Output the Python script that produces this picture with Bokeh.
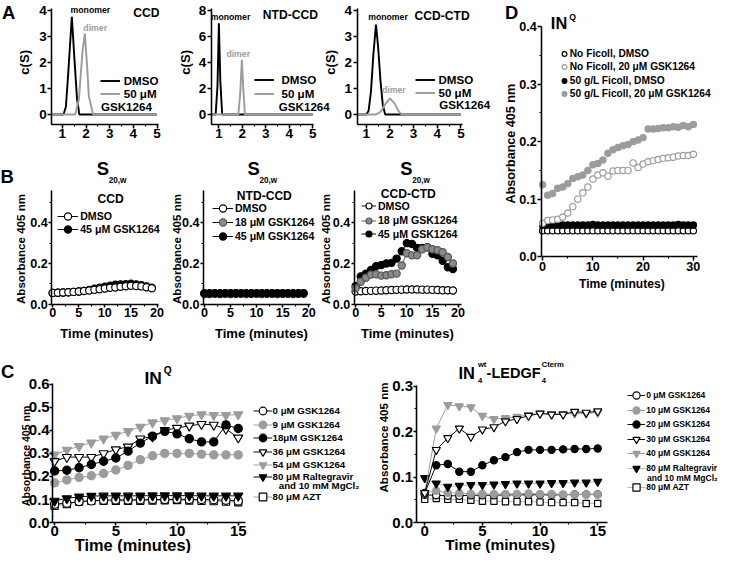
from math import pi
from bokeh.plotting import figure
from bokeh.models import (Range1d, FixedTicker, NumeralTickFormatter, Label, Legend,
                          LegendItem, LinearAxis, Grid)
from bokeh.embed import file_html
from bokeh.resources import INLINE

# ===================== DATA =====================
# Panel A : c(S) distributions (sedimentation coefficient S, c(S))
a_ccd_dmso_s = [0.55, 1.05, 1.15, 1.25, 1.40, 1.52, 1.62, 1.72, 5.0]
a_ccd_dmso_c = [0.0, 0.0, 0.3, 1.6, 3.75, 2.0, 0.6, 0.0, 0.0]
a_ccd_gsk_s = [0.55, 1.55, 1.70, 1.85, 1.95, 2.05, 2.12, 2.30, 5.0]
a_ccd_gsk_c = [0.0, 0.0, 0.6, 2.4, 3.1, 1.8, 0.7, 0.0, 0.0]
a_ntd_dmso_s = [0.67, 0.86, 0.94, 1.00, 1.06, 1.14, 5.0]
a_ntd_dmso_c = [0.0, 0.0, 2.2, 7.0, 2.6, 0.0, 0.0]
a_ntd_gsk_s = [0.67, 1.83, 1.91, 1.98, 2.04, 2.11, 5.0]
a_ntd_gsk_c = [0.0, 0.0, 1.6, 4.2, 2.0, 0.0, 0.0]
a_ctd_dmso_s = [0.61, 1.0, 1.1, 1.2, 1.3, 1.41, 1.5, 1.6, 1.7, 1.8, 5.0]
a_ctd_dmso_c = [0.0, 0.0, 0.15, 0.9, 2.3, 3.45, 2.6, 1.3, 0.35, 0.0, 0.0]
a_ctd_gsk_s = [0.61, 1.4, 1.6, 1.8, 2.0, 2.2, 2.35, 2.5, 5.0]
a_ctd_gsk_c = [0.0, 0.0, 0.1, 0.4, 0.62, 0.42, 0.15, 0.0, 0.0]

# Panel B : absorbance at 405 nm vs time (minutes)
b_time = [0, 1, 2, 3, 4, 5, 6, 7, 8, 9, 10, 11, 12, 13, 14, 15, 16, 17, 18, 19]
b_ccd_dmso = [0.055, 0.056, 0.057, 0.058, 0.060, 0.062, 0.064, 0.067, 0.070, 0.073,
              0.077, 0.080, 0.082, 0.085, 0.088, 0.090, 0.089, 0.087, 0.083, 0.078]
b_ccd_g45 = [0.055, 0.056, 0.057, 0.058, 0.060, 0.062, 0.065, 0.070, 0.076, 0.081,
             0.086, 0.090, 0.095, 0.097, 0.098, 0.100, 0.097, 0.093, 0.087, 0.080]
b_ntd_dmso = [0.050, 0.050, 0.051, 0.050, 0.051, 0.050, 0.051, 0.051, 0.050, 0.051,
              0.051, 0.050, 0.051, 0.051, 0.050, 0.051, 0.051, 0.050, 0.051, 0.051]
b_ntd_g18 = [0.052, 0.052, 0.053, 0.052, 0.053, 0.052, 0.053, 0.053, 0.052, 0.053,
             0.053, 0.052, 0.053, 0.053, 0.052, 0.053, 0.053, 0.052, 0.053, 0.053]
b_ntd_g45 = [0.053, 0.053, 0.054, 0.053, 0.054, 0.054, 0.053, 0.054, 0.054, 0.053,
             0.054, 0.054, 0.053, 0.054, 0.054, 0.053, 0.054, 0.054, 0.053, 0.054]
b_ctd_dmso = [0.062, 0.063, 0.064, 0.065, 0.066, 0.067, 0.068, 0.069, 0.070, 0.071,
              0.072, 0.072, 0.072, 0.071, 0.071, 0.070, 0.069, 0.068, 0.068, 0.067]
b_ctd_g18 = [0.078, 0.110, 0.130, 0.145, 0.147, 0.140, 0.142, 0.147, 0.150, 0.190,
             0.250, 0.240, 0.240, 0.270, 0.280, 0.270, 0.265, 0.255, 0.232, 0.200]
b_ctd_g45 = [0.088, 0.136, 0.149, 0.168, 0.187, 0.192, 0.200, 0.203, 0.224, 0.260,
             0.300, 0.296, 0.277, 0.277, 0.280, 0.248, 0.240, 0.213, 0.181, 0.173]

# Panel C : absorbance at 405 nm vs time (minutes)
c_time = [0, 1, 2, 3, 4, 5, 6, 7, 8, 9, 10, 11, 12, 13, 14, 15]
c1_0 = [0.080, 0.084, 0.091, 0.094, 0.097, 0.098, 0.098, 0.099, 0.100, 0.100, 0.101, 0.100, 0.100, 0.099, 0.097, 0.094]
c1_9 = [0.172, 0.185, 0.196, 0.203, 0.213, 0.228, 0.248, 0.273, 0.290, 0.300, 0.300, 0.300, 0.297, 0.294, 0.294, 0.294]
c1_18 = [0.224, 0.227, 0.238, 0.252, 0.266, 0.280, 0.310, 0.345, 0.375, 0.396, 0.385, 0.364, 0.350, 0.350, 0.424, 0.408]
c1_36 = [0.266, 0.284, 0.284, 0.284, 0.300, 0.317, 0.329, 0.364, 0.373, 0.401, 0.410, 0.420, 0.427, 0.424, 0.406, 0.368]
c1_54 = [0.294, 0.315, 0.331, 0.347, 0.364, 0.380, 0.396, 0.415, 0.434, 0.443, 0.452, 0.463, 0.469, 0.466, 0.466, 0.469]
c1_ral = [0.094, 0.105, 0.112, 0.115, 0.116, 0.116, 0.116, 0.116, 0.117, 0.117, 0.117, 0.117, 0.116, 0.116, 0.116, 0.116]
c1_azt = [0.073, 0.080, 0.091, 0.094, 0.095, 0.095, 0.095, 0.095, 0.096, 0.097, 0.098, 0.096, 0.094, 0.093, 0.091, 0.088]

c2_0 = [0.061, 0.060, 0.059, 0.059, 0.060, 0.060, 0.060, 0.061, 0.061, 0.061, 0.061, 0.061, 0.061, 0.062, 0.062, 0.062]
c2_10 = [0.065, 0.070, 0.065, 0.065, 0.063, 0.063, 0.063, 0.063, 0.063, 0.064, 0.063, 0.063, 0.062, 0.062, 0.062, 0.062]
c2_20 = [0.065, 0.126, 0.129, 0.112, 0.112, 0.126, 0.137, 0.144, 0.155, 0.160, 0.160, 0.160, 0.161, 0.162, 0.162, 0.163]
c2_30 = [0.065, 0.160, 0.186, 0.207, 0.189, 0.205, 0.210, 0.223, 0.228, 0.235, 0.240, 0.238, 0.238, 0.244, 0.242, 0.245]
c2_40 = [0.065, 0.207, 0.259, 0.256, 0.254, 0.235, 0.228, 0.230, 0.233, 0.237, 0.240, 0.239, 0.239, 0.240, 0.240, 0.242]
c2_ral = [0.098, 0.086, 0.079, 0.081, 0.083, 0.083, 0.084, 0.085, 0.086, 0.086, 0.086, 0.087, 0.087, 0.088, 0.088, 0.090]
c2_azt = [0.051, 0.053, 0.051, 0.051, 0.049, 0.047, 0.047, 0.046, 0.046, 0.046, 0.045, 0.044, 0.044, 0.044, 0.042, 0.042]

# Panel D : absorbance at 405 nm vs time (minutes)
d_time = [0, 1, 2, 3, 4, 5, 6, 7, 8, 9, 10, 11, 12, 13, 14, 15, 16, 17, 18, 19, 20,
          21, 22, 23, 24, 25, 26, 27, 28, 29, 30]
d_nof_dmso = [0.045, 0.045, 0.045, 0.045, 0.045, 0.045, 0.045, 0.045, 0.045, 0.045, 0.045,
              0.045, 0.045, 0.045, 0.045, 0.045, 0.045, 0.045, 0.045, 0.045, 0.045,
              0.045, 0.045, 0.045, 0.045, 0.045, 0.045, 0.045, 0.045, 0.045, 0.045]
d_nof_gsk = [0.058, 0.063, 0.064, 0.065, 0.069, 0.076, 0.087, 0.100, 0.111, 0.121, 0.135,
             0.142, 0.146, 0.140, 0.149, 0.150, 0.150, 0.150, 0.163, 0.155, 0.161,
             0.165, 0.167, 0.169, 0.171, 0.172, 0.173, 0.175, 0.176, 0.176, 0.178]
d_fic_dmso = [0.055, 0.055, 0.055, 0.055, 0.055, 0.055, 0.055, 0.055, 0.055, 0.055, 0.056,
              0.055, 0.055, 0.055, 0.055, 0.055, 0.055, 0.055, 0.055, 0.055, 0.055,
              0.055, 0.055, 0.055, 0.055, 0.055, 0.055, 0.056, 0.055, 0.055, 0.055]
d_fic_gsk = [0.125, 0.107, 0.110, 0.119, 0.121, 0.127, 0.136, 0.139, 0.142, 0.150, 0.160,
             0.162, 0.168, 0.180, 0.186, 0.190, 0.193, 0.195, 0.200, 0.203, 0.207,
             0.222, 0.222, 0.223, 0.224, 0.224, 0.226, 0.225, 0.228, 0.226, 0.230]

# ===================== CANVAS =====================
K = 0.967                      # whole figure scaled so it fits inside the 8px page margin
X0, Y0 = -1, -2                # visible window in reference-layout units
WV, HV = 743, 572
FONT = "Liberation Sans"
GRAY = "#9c9c9c"
MGRAY = "#8a8a8a"
DGRAY = "#555555"
LGRAY = "#b5b5b5"


def z(v):
    return v * K


def fs(v):
    return f"{v * K:.1f}px"


# one canvas; every sub-panel has its own pair of ranges and fixed-location axes
p = figure(width=round(WV * K), height=round(HV * K),
           x_range=Range1d(X0, X0 + WV), y_range=Range1d(Y0 + HV, Y0),
           x_axis_location=None, y_axis_location=None,
           tools="", toolbar_location=None, output_backend="svg", title=None, min_border=0)
p.outline_line_color = None
p.background_fill_color = "white"
p.border_fill_color = "white"
p.xgrid.visible = False
p.ygrid.visible = False
p.center = [c for c in p.center if not isinstance(c, Grid)]

XR, YR = {}, {}


class Panel:
    def __init__(self, name, xa, xb, ya, yb):
        self.xn, self.yn = name + "_x", name + "_y"
        self.xa, self.ya = xa, ya
        self.sx = (xb[1] - xa[1]) / (xb[0] - xa[0])
        self.sy = (yb[1] - ya[1]) / (yb[0] - ya[0])
        XR[self.xn] = Range1d(self.vx(X0), self.vx(X0 + WV))
        YR[self.yn] = Range1d(self.vy(Y0 + HV), self.vy(Y0))

    def vx(self, X):
        return self.xa[1] + (X - self.xa[0]) * self.sx

    def vy(self, Y):
        return self.ya[1] + (Y - self.ya[0]) * self.sy

    def axes(self, xloc, ybot, xend, ytop, xt, xm, yt, ym, xfmt, yfmt, size, standoff=1, tick=4):
        left = LinearAxis(x_range_name=self.xn, y_range_name=self.yn,
                          fixed_location=self.vx(xloc), bounds=(self.vy(ybot), self.vy(ytop)),
                          ticker=FixedTicker(ticks=yt, minor_ticks=ym),
                          formatter=NumeralTickFormatter(format=yfmt))
        below = LinearAxis(x_range_name=self.xn, y_range_name=self.yn,
                           fixed_location=self.vy(ybot), bounds=(self.vx(xloc), self.vx(xend)),
                           ticker=FixedTicker(ticks=xt, minor_ticks=xm),
                           formatter=NumeralTickFormatter(format=xfmt))
        for ax in (left, below):
            ax.axis_line_color = "black"
            ax.axis_line_width = z(1.6)
            ax.major_tick_line_color = "black"
            ax.major_tick_line_width = z(1.6)
            ax.minor_tick_line_color = "black"
            ax.minor_tick_line_width = z(1.2)
            ax.major_tick_out = round(z(tick))
            ax.major_tick_in = 0
            ax.minor_tick_out = round(z(2))
            ax.minor_tick_in = 0
            ax.major_label_standoff = standoff
            ax.major_label_text_font = FONT
            ax.major_label_text_font_style = "bold"
            ax.major_label_text_font_size = fs(size)
            ax.major_label_text_color = "black"
        p.add_layout(left, "left")
        p.add_layout(below, "below")

    def line(self, x, y, color, width):
        return p.line(x, y, line_color=color, line_width=z(width),
                      x_range_name=self.xn, y_range_name=self.yn)

    def series(self, x, y, marker, size, fill, edge, lc="black", lw=1.0, with_line=True):
        rs = []
        if with_line:
            rs.append(self.line(x, y, lc, lw))
        rs.append(p.scatter(x, y, marker=marker, size=z(size), fill_color=fill,
                            line_color=edge, line_width=z(1.2),
                            x_range_name=self.xn, y_range_name=self.yn))
        return rs


def text(s, X, Y, size, color="black", align="center", angle=0.0):
    p.add_layout(Label(x=X, y=Y, text=s, text_font=FONT, text_font_size=fs(size),
                       text_font_style="bold", text_color=color, text_align=align,
                       text_baseline="middle", angle=angle))


def key(renderers, label, Xc, Y, gw, gh, standoff, size):
    GW, GH = round(z(gw)), round(z(gh))
    vx = z(Xc - X0) - GW / 2
    vy = z(Y0 + HV - Y) - GH / 2
    leg = Legend(items=[LegendItem(label=label, renderers=renderers)], location=(vx, vy),
                 glyph_width=GW, glyph_height=GH, label_height=GH, label_width=10,
                 label_standoff=round(z(standoff)), padding=0, margin=0, spacing=0,
                 border_line_color=None, background_fill_alpha=0,
                 label_text_font=FONT, label_text_font_size=fs(size),
                 label_text_font_style="bold", label_text_color="black")
    p.add_layout(leg)


A1 = Panel("A1", (63, 1), (161, 5), (116, 0), (8, 4))
A2 = Panel("A2", (225, 1), (322, 5), (116, 0), (8, 8))
A3 = Panel("A3", (377.5, 1), (475.5, 5), (116, 0), (8, 4))
B1 = Panel("B1", (53, 0), (161, 20), (312, 0), (228, 0.4))
B2 = Panel("B2", (210, 0), (318, 20), (312, 0), (228, 0.4))
B3 = Panel("B3", (366.5, 0), (472.5, 20), (312, 0), (228, 0.4))
PD = Panel("D", (560, 0), (716, 30), (263, 0), (25, 0.4))
C1 = Panel("C1", (55, 0), (245, 15), (538, 0), (395, 0.6))
C2 = Panel("C2", (438, 0), (617, 15), (538, 0), (397, 0.3))
p.extra_x_ranges = XR
p.extra_y_ranges = YR

# ===================== PANEL A =====================
A_XT, A_XM = [1, 2, 3, 4, 5], [1.5, 2.5, 3.5, 4.5]
A1.axes(52, 126, 163, 6, A_XT, A_XM, [0, 1, 2, 3, 4], [], "0", "0", 14)
A2.axes(217, 126, 323, 6, A_XT, A_XM, [0, 2, 4, 6, 8], [], "0", "0", 14)
A3.axes(368, 126, 477, 6, A_XT, A_XM, [0, 1, 2, 3, 4], [], "0", "0", 14)

a_specs = [
    (A1, a_ccd_dmso_s, a_ccd_dmso_c, a_ccd_gsk_s, a_ccd_gsk_c, "CCD", (150, 11), (92, 8), (97, 26),
     24, 112.5, 4, (81, 95), (103, 108)),
    (A2, a_ntd_dmso_s, a_ntd_dmso_c, a_ntd_gsk_s, a_ntd_gsk_c, "NTD-CCD", (299, 13), (237, 15), (245, 53),
     190, 272.5, 7, (80, 95), (287, 108)),
    (A3, a_ctd_dmso_s, a_ctd_dmso_c, a_ctd_gsk_s, a_ctd_gsk_c, "CCD-CTD", (456, 14), (400, 15), (406, 91),
     341, 439, 3, (80, 94), (453, 106)),
]
for (P, ds, dc, gs, gc, name, tpos, mpos, dpos, ylx, kx, kso, krows, gpos) in a_specs:
    r_d = P.line(ds, dc, "black", 2.0)
    r_g = P.line(gs, gc, GRAY, 2.0)
    text(name, tpos[0], tpos[1], 12.5)
    text("monomer", mpos[0], mpos[1], 9)
    text("dimer", dpos[0], dpos[1], 9, color=GRAY)
    text("c(S)", ylx, 62, 13.5, angle=pi / 2)
    key([r_d], "DMSO", kx, krows[0], 21, 16, kso, 12)
    key([r_g], "50 μM", kx, krows[1], 21, 16, kso, 12)
    text("GSK1264", gpos[0], gpos[1], 12, align="left")
text("A", 7.5, 10.5, 19)

# ===================== PANEL B =====================
B_XT, B_XM = [0, 5, 10, 15, 20], [2.5, 7.5, 12.5, 17.5]
B_YT, B_YM = [0.0, 0.2, 0.4], [0.1, 0.3, 0.5]
B1.axes(52, 312, 163, 195, B_XT, B_XM, B_YT, B_YM, "0", "0.0", 13, tick=3)
B2.axes(209, 312, 320, 195, B_XT, B_XM, B_YT, B_YM, "0", "0.0", 13, tick=3)
B3.axes(365, 312, 476, 195, B_XT, B_XM, B_YT, B_YM, "0", "0.0", 13, tick=3)

r_b1g = B1.series(b_time, b_ccd_g45, "circle", 7.5, "black", "black")
r_b1d = B1.series(b_time, b_ccd_dmso, "circle", 7.5, "white", "black")
key(r_b1d, "DMSO", 69, 221, 22, 19, 2, 11)
key(r_b1g, "45 μM GSK1264", 69, 235, 22, 19, 2, 11)

r_b2d = B2.series(b_time, b_ntd_dmso, "circle", 7.5, "white", "black")
r_b2a = B2.series(b_time, b_ntd_g18, "circle", 7.5, MGRAY, DGRAY)
r_b2b = B2.series(b_time, b_ntd_g45, "circle", 7.5, "black", "black")
key(r_b2d, "DMSO", 229, 213, 22, 19, 2, 11)
key(r_b2a, "18 μM GSK1264", 229, 228, 22, 19, 2, 11)
key(r_b2b, "45 μM GSK1264", 229, 242, 22, 19, 2, 11)

r_b3d = B3.series(b_time, b_ctd_dmso, "circle", 7.5, "white", "black")
r_b3b = B3.series(b_time, b_ctd_g45, "circle", 7.5, "black", "black")
r_b3a = B3.series(b_time, b_ctd_g18, "circle", 7.5, MGRAY, DGRAY, lc=DGRAY)
key(r_b3d, "DMSO", 380, 211, 16, 18, 2, 11)
key(r_b3a, "18 μM GSK1264", 380, 226, 16, 18, 2, 11)
key(r_b3b, "45 μM GSK1264", 380, 240, 16, 18, 2, 11)

for name, npos, sx, ylx, xlx in (("CCD", (113, 203), 105, 20, 109),
                                  ("NTD-CCD", (272, 200), 261, 181, 269),
                                  ("CCD-CTD", (421, 198), 419, 335, 420)):
    text(name, npos[0], npos[1], 12.5)
    text("S", sx, 172, 19)
    text("20,w", sx + 6, 184, 8.5, align="left")
    text("Absorbance 405 nm", ylx, 255, 12, angle=pi / 2)
    text("Time (minutes)", xlx, 342, 13.5)
text("B", 6, 180, 19)

# ===================== PANEL D =====================
PD.axes(559, 263, 720, 24.5, [0, 10, 20, 30], [5, 15, 25], [0.0, 0.1, 0.2, 0.3, 0.4],
        [0.05, 0.15, 0.25, 0.35], "0", "0.0", 13)
r_d1 = PD.series(d_time, d_nof_dmso, "circle", 6.5, "white", "black", with_line=False)
r_d3 = PD.series(d_time, d_fic_dmso, "circle", 6.5, "black", "black", with_line=False)
r_d2 = PD.series(d_time, d_nof_gsk, "circle", 6.5, "white", GRAY, with_line=False)
r_d4 = PD.series(d_time, d_fic_gsk, "circle", 6.5, GRAY, GRAY, with_line=False)
key(r_d1, "No Ficoll, DMSO", 582, 53, 12, 16, 0, 10.5)
key(r_d2, "No Ficoll, 20 μM GSK1264", 582, 67, 12, 16, 0, 10.5)
key(r_d3, "50 g/L Ficoll, DMSO", 582, 81, 12, 16, 0, 10.5)
key(r_d4, "50 g/L Ficoll, 20 μM GSK1264", 582, 95, 12, 16, 0, 10.5)
text("D", 528, 10, 19)
text("IN", 577, 21, 17)
text("Q", 591, 15, 9)
text("Absorbance 405 nm", 527, 146, 13, angle=pi / 2)
text("Time (minutes)", 642, 291, 12.5)

# ===================== PANEL C =====================
C1.axes(53, 538, 253, 394.5, [0, 5, 10, 15], [2.5, 7.5, 12.5],
        [0.0, 0.1, 0.2, 0.3, 0.4, 0.5, 0.6], [], "0", "0.0", 15.5, standoff=0, tick=3)
C2.axes(429, 538, 627, 396.5, [0, 5, 10, 15], [2.5, 7.5, 12.5],
        [0.0, 0.1, 0.2, 0.3], [0.05, 0.15, 0.25], "0", "0.0", 15.5, standoff=0, tick=3)

r_c1azt = C1.series(c_time, c1_azt, "square", 7.5, "white", "black", lc=GRAY)
r_c1_0 = C1.series(c_time, c1_0, "circle", 8.5, "white", "black")
r_c1ral = C1.series(c_time, c1_ral, "inverted_triangle", 9.5, "black", "black")
r_c1_9 = C1.series(c_time, c1_9, "circle", 8.5, GRAY, GRAY, lc=GRAY)
r_c1_54 = C1.series(c_time, c1_54, "inverted_triangle", 9.5, GRAY, GRAY, lc=GRAY)
r_c1_36 = C1.series(c_time, c1_36, "inverted_triangle", 9.5, "white", "black")
r_c1_18 = C1.series(c_time, c1_18, "circle", 8.5, "black", "black")
for rs, lab, yy in ((r_c1_0, "0 μM GSK1264", 423), (r_c1_9, "9 μM GSK1264", 437),
                    (r_c1_18, "18μM GSK1264", 451), (r_c1_36, "36 μM GSK1264", 465),
                    (r_c1_54, "54 μM GSK1264", 478), (r_c1ral, "80 μM Raltegravir", 491),
                    (r_c1azt, "80 μM AZT", 512)):
    key(rs, lab, 270, yy, 20, 20, 1, 10)
text("and 10 mM MgCl₂", 287, 500, 10, align="left")
text("C", 6.5, 382, 19)
text("IN", 157, 388, 18)
text("Q", 172, 381, 10.5)
text("Absorbance 405 nm", 25, 469, 11, angle=pi / 2)
text("Time (minutes)", 136, 561, 17)

r_c2azt = C2.series(c_time, c2_azt, "square", 6.5, "white", "black", lc=LGRAY)
r_c2_0 = C2.series(c_time, c2_0, "circle", 7.5, "white", "black")
r_c2_10 = C2.series(c_time, c2_10, "circle", 7.5, GRAY, GRAY, lc=GRAY)
r_c2ral = C2.series(c_time, c2_ral, "inverted_triangle", 8.5, "black", "black", lc=LGRAY)
r_c2_20 = C2.series(c_time, c2_20, "circle", 7.5, "black", "black")
r_c2_40 = C2.series(c_time, c2_40, "inverted_triangle", 8.5, GRAY, GRAY, lc=GRAY)
r_c2_30 = C2.series(c_time, c2_30, "inverted_triangle", 8.5, "white", "black")
for rs, lab, yy in ((r_c2_0, "0 μM GSK1264", 407), (r_c2_10, "10 μM GSK1264", 422),
                    (r_c2_20, "20 μM GSK1264", 437), (r_c2_30, "30 μM GSK1264", 452),
                    (r_c2_40, "40 μM GSK1264", 467), (r_c2ral, "80 μM Raltegravir", 482),
                    (r_c2azt, "80 μM AZT", 502)):
    key(rs, lab, 657, yy, 19, 19, 1, 8.8)
text("and 10 mM MgCl₂", 668, 492, 8.8, align="left")
text("IN", 473, 383, 17, align="left")
text("4", 493, 391, 8, align="left")
text("wt", 493, 375, 8, align="left")
text("-LEDGF", 502, 383, 15, align="left")
text("4", 559, 391, 8, align="left")
text("Cterm", 559, 374, 8, align="left")
text("Absorbance 405 nm", 395, 450, 12, angle=pi / 2)
text("Time (minutes)", 516, 561, 16)

open("out.html", "w").write(file_html(p, INLINE))
